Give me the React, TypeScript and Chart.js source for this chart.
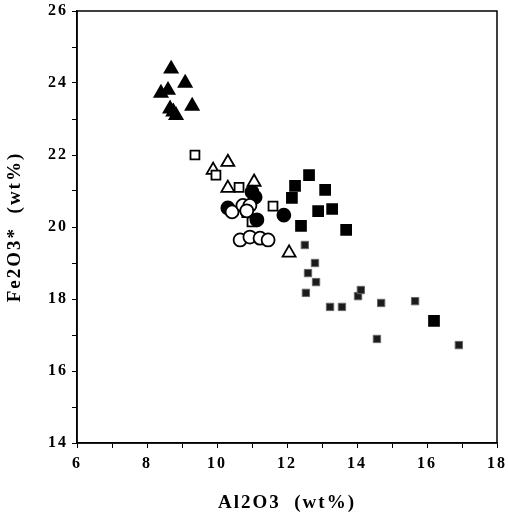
import React, { useEffect, useRef } from "react";
import { Chart, registerables } from "chart.js";

Chart.register(...registerables);

const filledTriangles = [
  { x: 8.69, y: 24.39 }, { x: 8.4, y: 23.72 }, { x: 8.6, y: 23.8 }, { x: 9.09, y: 24.0 },
  { x: 9.29, y: 23.36 }, { x: 8.66, y: 23.28 }, { x: 8.83, y: 23.1 }, { x: 8.75, y: 23.2 },
];
const openTriangles = [
  { x: 9.89, y: 21.58 }, { x: 10.31, y: 21.8 }, { x: 10.31, y: 21.08 }, { x: 11.06, y: 21.25 }, { x: 12.06, y: 19.28 },
];
const openSquares = [
  { x: 9.37, y: 22.0 }, { x: 9.97, y: 21.44 }, { x: 10.63, y: 21.1 }, { x: 11.6, y: 20.58 },
  { x: 11.0, y: 20.14 }, { x: 10.85, y: 20.4 },
];
const filledCircles = [
  { x: 11.0, y: 20.97 }, { x: 10.31, y: 20.53 }, { x: 11.09, y: 20.83 }, { x: 11.14, y: 20.2 }, { x: 11.91, y: 20.33 },
];
const openCircles = [
  { x: 10.43, y: 20.42 }, { x: 10.74, y: 20.6 }, { x: 10.94, y: 20.6 }, { x: 10.85, y: 20.45 },
  { x: 10.66, y: 19.64 }, { x: 10.94, y: 19.72 }, { x: 11.23, y: 19.69 }, { x: 11.46, y: 19.64 },
];
const filledSquares = [
  { x: 12.63, y: 21.44 }, { x: 12.23, y: 21.14 }, { x: 13.09, y: 21.03 }, { x: 12.14, y: 20.81 },
  { x: 12.89, y: 20.44 }, { x: 13.29, y: 20.5 }, { x: 12.4, y: 20.03 }, { x: 13.69, y: 19.92 }, { x: 16.2, y: 17.39 },
];
const dottedSquares = [
  { x: 12.51, y: 19.5 }, { x: 12.8, y: 19.0 }, { x: 12.6, y: 18.72 }, { x: 12.83, y: 18.47 },
  { x: 12.54, y: 18.17 }, { x: 13.23, y: 17.78 }, { x: 13.57, y: 17.78 }, { x: 14.03, y: 18.08 },
  { x: 14.11, y: 18.25 }, { x: 14.69, y: 17.89 }, { x: 15.66, y: 17.94 }, { x: 14.57, y: 16.89 }, { x: 16.91, y: 16.72 },
];

const xTicks = [6, 8, 10, 12, 14, 16, 18];
const yTicks = [14, 16, 18, 20, 22, 24, 26];

const FONT = "'Liberation Serif', 'Times New Roman', serif";

const frame = {
  id: "frame",
  beforeUpdate(chart: any) {
    chart.ctx.letterSpacing = "0px";
  },
  beforeDraw(chart: any) {
    chart.ctx.letterSpacing = "2px";
  },
  afterDraw(chart: any) {
    const { ctx, chartArea } = chart;
    ctx.save();
    ctx.strokeStyle = "#000";
    ctx.lineWidth = 1.5;
    ctx.strokeRect(chartArea.left, chartArea.top, chartArea.right - chartArea.left, chartArea.bottom - chartArea.top);
    ctx.restore();
  },
};

export default function App() {
  const ref = useRef<HTMLCanvasElement>(null);
  useEffect(() => {
    document.body.style.margin = "0";
    const canvas = ref.current!;
    const mk = (data: any[], style: string, radius: number, filled: boolean, extra: any = {}) => ({
      data,
      pointStyle: style,
      pointRadius: radius,
      pointHoverRadius: radius,
      backgroundColor: filled ? "#000" : "#fff",
      borderColor: "#000",
      borderWidth: 1.8,
      showLine: false,
      ...extra,
    });
    const chart = new Chart(canvas, {
      type: "scatter",
      data: {
        datasets: [
          mk(openCircles, "circle", 6.5, false, { label: "open circles" }),
          mk(filledCircles, "circle", 6.5, true, { label: "filled circles" }),
          mk(openSquares, "rect", 6.3, false, { label: "open squares" }),
          mk(openTriangles, "triangle", 7.5, false, { label: "open triangles" }),
          mk(filledTriangles, "triangle", 7.5, true, { label: "filled triangles" }),
          mk(filledSquares, "rect", 7, true, { label: "filled squares" }),
          mk(dottedSquares, "rect", 5.2, true, { label: "dotted squares", backgroundColor: "#1c1c1c", borderColor: "#666", borderWidth: 1 }),
        ],
      },
      options: {
        animation: false,
        responsive: false,
        maintainAspectRatio: false,
        layout: { padding: { top: 11, right: 11, left: 0, bottom: 0 } },
        plugins: { legend: { display: false }, tooltip: { enabled: false } },
        scales: {
          x: {
            type: "linear",
            min: 6,
            max: 18,
            afterFit: (s: any) => { s.height = 74; s.paddingLeft = 0; s.paddingRight = 0; },
            ticks: {
              stepSize: 1,
              autoSkip: false,
              maxRotation: 0,
              color: "#000",
              font: { family: FONT, size: 16, weight: "bold" },
              padding: 6,
              callback: (v: any) => (xTicks.includes(Number(v)) ? String(v) : ""),
            },
            grid: { drawOnChartArea: false, drawTicks: true, tickLength: 5, color: "#000", lineWidth: 1 },
            border: { display: true, color: "#000", width: 1.5 },
            title: {
              display: true,
              text: "Al2O3  (wt%)",
              color: "#000",
              font: { family: FONT, size: 19, weight: "bold" },
              padding: { top: 10, bottom: 3 },
            },
          },
          y: {
            type: "linear",
            min: 14,
            max: 26,
            afterFit: (s: any) => { s.width = 77; s.paddingTop = 0; s.paddingBottom = 0; },
            ticks: {
              stepSize: 1,
              autoSkip: false,
              color: "#000",
              font: { family: FONT, size: 16, weight: "bold" },
              padding: 4,
              callback: (v: any) => (yTicks.includes(Number(v)) ? String(v) : ""),
            },
            grid: { drawOnChartArea: false, drawTicks: true, tickLength: 5, color: "#000", lineWidth: 1 },
            border: { display: true, color: "#000", width: 1.5 },
            title: {
              display: true,
              text: "Fe2O3*  (wt%)",
              color: "#000",
              font: { family: FONT, size: 19, weight: "bold" },
              padding: { top: 4, bottom: 0 },
            },
          },
        },
      },
      plugins: [frame],
    } as any);
    return () => chart.destroy();
  }, []);
  return (
    <div style={{ width: 508, height: 517, background: "#fff" }}>
      <canvas ref={ref} width={508} height={517} style={{ display: "block" }} />
    </div>
  );
}
